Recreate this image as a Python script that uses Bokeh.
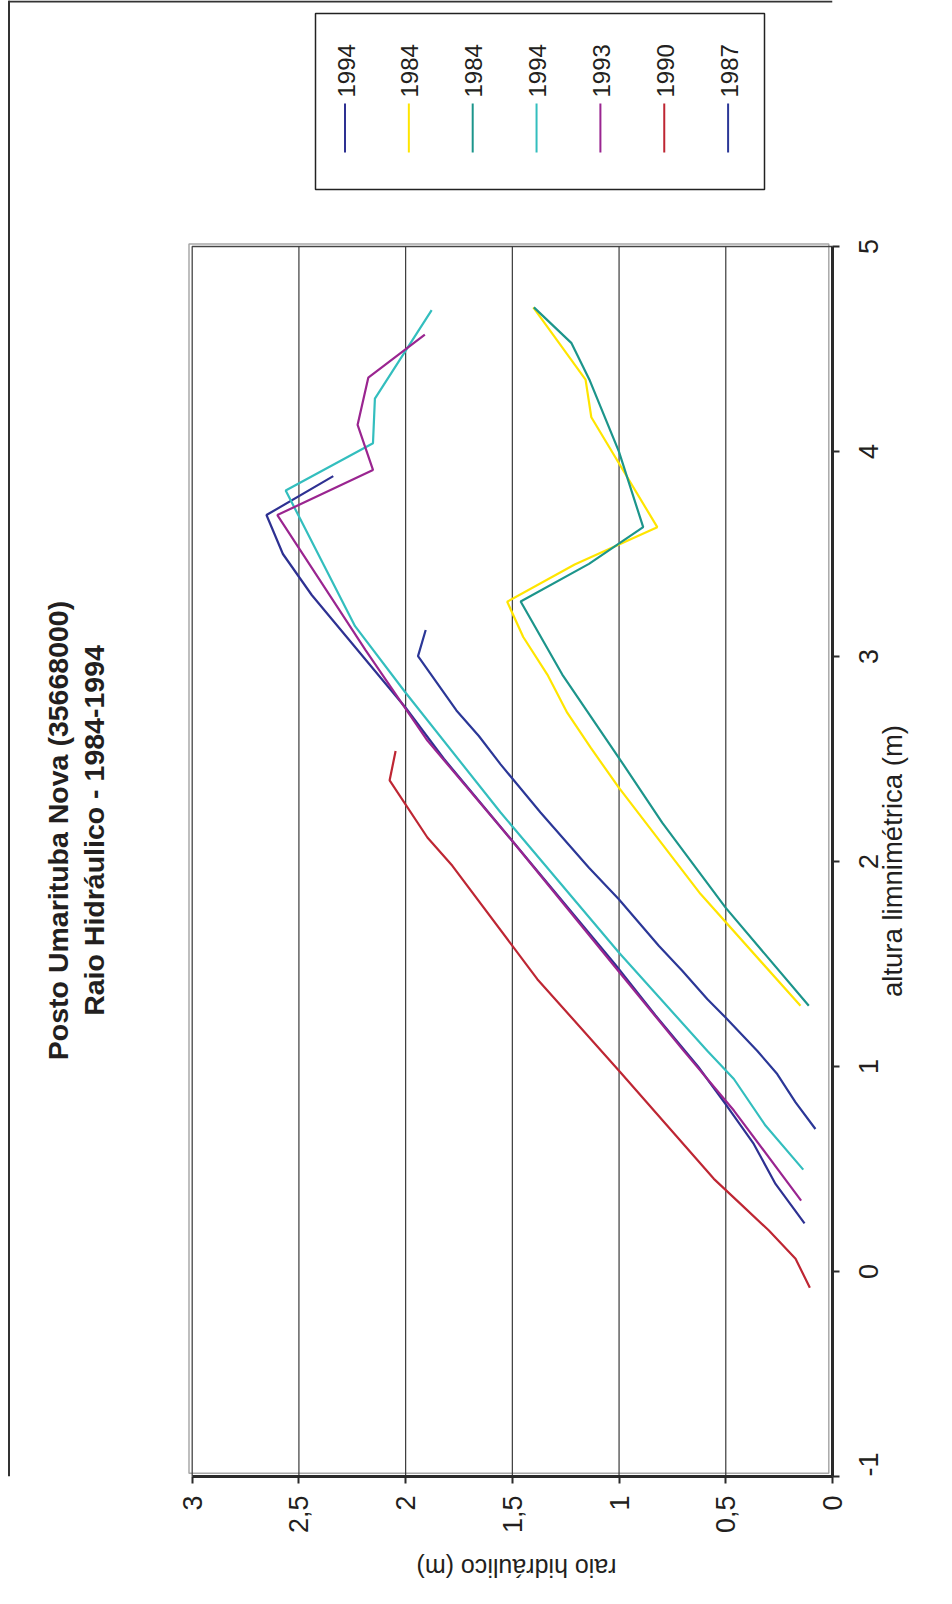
import math
from bokeh.plotting import figure
from bokeh.models import (Range1d, LinearAxis, FixedTicker, CustomJSTickFormatter)
from bokeh.core.properties import value
from bokeh.embed import file_html
from bokeh.resources import INLINE

# ---------------- data (altura limnimétrica [m], raio hidráulico [m]) ----------------
series_names = ["1994", "1984", "1984", "1994", "1993", "1990", "1987"]

alt_1994a = [0.235, 0.427, 0.622, 0.817, 1.0, 1.25, 1.5, 2.0, 2.5, 2.75, 3.1, 3.3, 3.5, 3.69, 3.88]
raio_1994a = [0.131, 0.267, 0.369, 0.501, 0.63, 0.83, 1.02, 1.42, 1.82, 2.0, 2.28, 2.44, 2.575, 2.652, 2.339]

alt_1984y = [1.296, 1.841, 2.36, 2.555, 2.726, 2.912, 3.095, 3.267, 3.449, 3.631, 4.167, 4.351, 4.703]
raio_1984y = [0.15, 0.618, 1.001, 1.133, 1.243, 1.336, 1.449, 1.524, 1.208, 0.821, 1.13, 1.157, 1.402]

alt_1984t = [1.296, 1.775, 2.19, 2.506, 2.912, 3.268, 3.452, 3.631, 4.001, 4.346, 4.53, 4.703]
raio_1984t = [0.111, 0.501, 0.798, 1.001, 1.266, 1.461, 1.141, 0.887, 1.001, 1.137, 1.224, 1.399]

alt_1994c = [0.497, 0.712, 0.939, 1.077, 1.556, 2.239, 2.823, 3.148, 3.81, 4.04, 4.258, 4.69]
raio_1994c = [0.137, 0.314, 0.462, 0.587, 1.001, 1.555, 2.0, 2.237, 2.562, 2.153, 2.144, 1.878]

alt_1993 = [0.346, 0.785, 1.08, 1.5, 2.1, 2.59, 3.03, 3.69, 3.91, 4.13, 4.36, 4.57]
raio_1993 = [0.147, 0.462, 0.70, 1.03, 1.5, 1.898, 2.187, 2.601, 2.153, 2.225, 2.175, 1.91]

alt_1990 = [-0.079, 0.062, 0.2, 0.33, 0.452, 0.971, 1.426, 1.979, 2.117, 2.396, 2.539]
raio_1990 = [0.106, 0.173, 0.298, 0.431, 0.556, 0.993, 1.383, 1.781, 1.898, 2.075, 2.047]

alt_1987 = [0.695, 0.825, 0.963, 1.077, 1.239, 1.329, 1.467, 1.589, 1.816, 1.97, 2.239, 2.474, 2.612, 2.737, 3.002, 3.129]
raio_1987 = [0.08, 0.173, 0.259, 0.353, 0.501, 0.587, 0.704, 0.814, 1.001, 1.141, 1.368, 1.555, 1.657, 1.762, 1.942, 1.906]

altura_ticks = [-1, 0, 1, 2, 3, 4, 5]
raio_ticks = [0, 0.5, 1, 1.5, 2, 2.5, 3]

title_lines = ["Posto Umarituba Nova (35668000)", "Raio Hidráulico - 1984-1994"]
altura_title = "altura limnimétrica (m)"
raio_title = "raio hidráulico (m)"

series_alt = [alt_1994a, alt_1984y, alt_1984t, alt_1994c, alt_1993, alt_1990, alt_1987]
series_raio = [raio_1994a, raio_1984y, raio_1984t, raio_1994c, raio_1993, raio_1990, raio_1987]

# ---------------- styles ----------------
colors = ["#2E3192", "#FFE500", "#1C958B", "#33BEBE", "#9A2590", "#BE2633", "#2B3797"]
TXT = "#231F20"
AX = "#2A2A2A"
FONT = "Liberation Sans"
TICK_FS = 27          # px
YTITLE_FS = 27.5      # px

# ---------------- layout (page px == canvas px) ----------------
W, H = 950, 1600
FRAME_W, FRAME_H = 832, 1476            # frame spans canvas x 0..832, y 0..1476
PA_L, PA_T = 191.7, 246.0               # plot-area left / top inside the frame
RAIO_MIN, RAIO_MAX = min(raio_ticks), max(raio_ticks)
ALT_MIN, ALT_MAX = min(altura_ticks), max(altura_ticks)
px_per_raio = (FRAME_W - PA_L) / (RAIO_MAX - RAIO_MIN)
px_per_alt = (FRAME_H - PA_T) / (ALT_MAX - ALT_MIN)

x_range = Range1d(start=RAIO_MAX + PA_L / px_per_raio, end=RAIO_MIN)
y_range = Range1d(start=ALT_MIN, end=ALT_MAX + PA_T / px_per_alt)

p = figure(width=W, height=H, x_range=x_range, y_range=y_range,
           output_backend="svg", toolbar_location=None,
           x_axis_location=None, y_axis_location=None,
           min_border_left=0, min_border_top=0,
           min_border_right=W - FRAME_W, min_border_bottom=H - FRAME_H)
p.title.text = ""
p.title.visible = False
p.outline_line_color = None
p.grid.visible = False
p.background_fill_color = "white"
p.border_fill_color = "white"

# canvas-pixel helper ranges for decorations
p.extra_x_ranges["cx"] = Range1d(start=0, end=FRAME_W)
p.extra_y_ranges["cy"] = Range1d(start=FRAME_H, end=0)

# page frame lines (top and left)
p.segment(x0=[8, 8.5], y0=[1, 0], x1=[FRAME_W, 8.5], y1=[1, FRAME_H],
          x_range_name="cx", y_range_name="cy", line_color="#333333", line_width=2)

# ---------------- bottom axis (raio hidráulico) ----------------
xaxis = LinearAxis(bounds=(RAIO_MIN, RAIO_MAX),
                   ticker=FixedTicker(ticks=raio_ticks),
                   formatter=CustomJSTickFormatter(code="return String(tick).replace('.', ',')"))
xaxis.axis_line_color = AX
xaxis.axis_line_width = 3
xaxis.major_tick_line_color = AX
xaxis.major_tick_line_width = 2
xaxis.major_tick_out = 7
xaxis.major_tick_in = 0
xaxis.minor_tick_line_color = None
xaxis.major_label_orientation = math.pi / 2
xaxis.major_label_text_font = FONT
xaxis.major_label_text_font_size = f"{TICK_FS}px"
xaxis.major_label_text_color = TXT
xaxis.major_label_standoff = 12
xaxis.axis_label = raio_title
xaxis.axis_label_text_font = FONT
xaxis.axis_label_text_font_style = "normal"
xaxis.axis_label_text_color = TXT
xaxis.axis_label_text_font_size = "25px"
xaxis.axis_label_standoff = 32
try:
    xaxis.axis_label_orientation = math.pi
except Exception:
    pass
p.add_layout(xaxis, "below")

# ---------------- right axis (altura limnimétrica): line + ticks ----------------
yaxis = LinearAxis(bounds=(ALT_MIN, ALT_MAX), ticker=FixedTicker(ticks=altura_ticks),
                   formatter=CustomJSTickFormatter(code="return ''"))
yaxis.axis_line_color = AX
yaxis.axis_line_width = 3
yaxis.major_tick_line_color = AX
yaxis.major_tick_line_width = 2
yaxis.major_tick_out = 7
yaxis.major_tick_in = 0
yaxis.minor_tick_line_color = None
yaxis.major_label_text_font_size = "0px"
yaxis.major_label_standoff = 0
p.add_layout(yaxis, "right")

# rotated tick labels, centred on their ticks (rotated text starts at its anchor)
def _half_len_px(t):
    s = str(t)
    return 0.5 * TICK_FS * (0.556 * sum(ch.isdigit() for ch in s) + 0.333 * s.count("-"))

label_pos = [max(ALT_MIN, t - _half_len_px(t) / px_per_alt) for t in altura_ticks]
ylabels = LinearAxis(ticker=FixedTicker(ticks=label_pos),
                     formatter=CustomJSTickFormatter(code="return String(Math.round(tick))"))
ylabels.axis_line_color = None
ylabels.major_tick_line_color = None
ylabels.major_tick_out = 0
ylabels.major_tick_in = 0
ylabels.minor_tick_line_color = None
ylabels.major_label_orientation = math.pi / 2
ylabels.major_label_text_font = FONT
ylabels.major_label_text_font_size = f"{TICK_FS}px"
ylabels.major_label_text_color = TXT
ylabels.major_label_standoff = 29
p.add_layout(ylabels, "right")

# axis title, centred on the plot area
title_len_px = 271.0
title_pos = (ALT_MIN + ALT_MAX) / 2 - 0.5 * title_len_px / px_per_alt
ytitle = LinearAxis(ticker=FixedTicker(ticks=[title_pos]),
                    formatter=CustomJSTickFormatter(args=dict(t=altura_title), code="return t"))
ytitle.axis_line_color = None
ytitle.major_tick_line_color = None
ytitle.major_tick_out = 0
ytitle.major_tick_in = 0
ytitle.minor_tick_line_color = None
ytitle.major_label_orientation = math.pi / 2
ytitle.major_label_text_font = FONT
ytitle.major_label_text_font_size = f"{YTITLE_FS}px"
ytitle.major_label_text_color = TXT
ytitle.major_label_standoff = 2
p.add_layout(ytitle, "right")

# ---------------- plot area: border + gridlines ----------------
p.quad(left=[PA_L - 3.2], right=[FRAME_W - 3.7], top=[PA_T - 2.5], bottom=[FRAME_H - 3.3],
       x_range_name="cx", y_range_name="cy",
       fill_color="white", line_color="#A8A8A8", line_width=1.5)
p.quad(left=[RAIO_MAX], right=[RAIO_MIN], top=[ALT_MAX], bottom=[ALT_MIN],
       fill_color=None, line_color="#444444", line_width=1.3)
grid_vals = [t for t in raio_ticks if RAIO_MIN < t < RAIO_MAX]
p.segment(x0=grid_vals, y0=[ALT_MIN] * len(grid_vals), x1=grid_vals, y1=[ALT_MAX] * len(grid_vals),
          line_color="#3A3A3A", line_width=1.2)

# ---------------- series ----------------
for alt, raio, c in zip(series_alt, series_raio, colors):
    p.line(x=raio, y=alt, line_color=c, line_width=2.2)

# ---------------- title (rotated) ----------------
p.text(x=[57.3, 93.6], y=[830, 830], text=title_lines, angle=math.pi / 2,
       x_range_name="cx", y_range_name="cy",
       text_font=value(FONT), text_font_style="bold", text_font_size="28.5px",
       text_align="center", text_baseline="middle", text_color=TXT)

# ---------------- legend (rotated) ----------------
LG_L, LG_R, LG_T, LG_B = 315, 764, 13, 189
p.quad(left=[LG_L], right=[LG_R], top=[LG_T], bottom=[LG_B],
       x_range_name="cx", y_range_name="cy",
       fill_color="white", line_color="#222222", line_width=1.5)
n = len(series_names)
lx = [344.5 + i * 63.85 for i in range(n)]
p.segment(x0=lx, y0=[103] * n, x1=lx, y1=[152] * n, line_color=colors, line_width=2,
          x_range_name="cx", y_range_name="cy")
p.text(x=[v + 1 for v in lx], y=[97] * n, text=series_names, angle=math.pi / 2,
       x_range_name="cx", y_range_name="cy",
       text_font=value(FONT), text_font_size="24px",
       text_align="left", text_baseline="middle", text_color=TXT)

open("out.html", "w").write(file_html(p, INLINE))
